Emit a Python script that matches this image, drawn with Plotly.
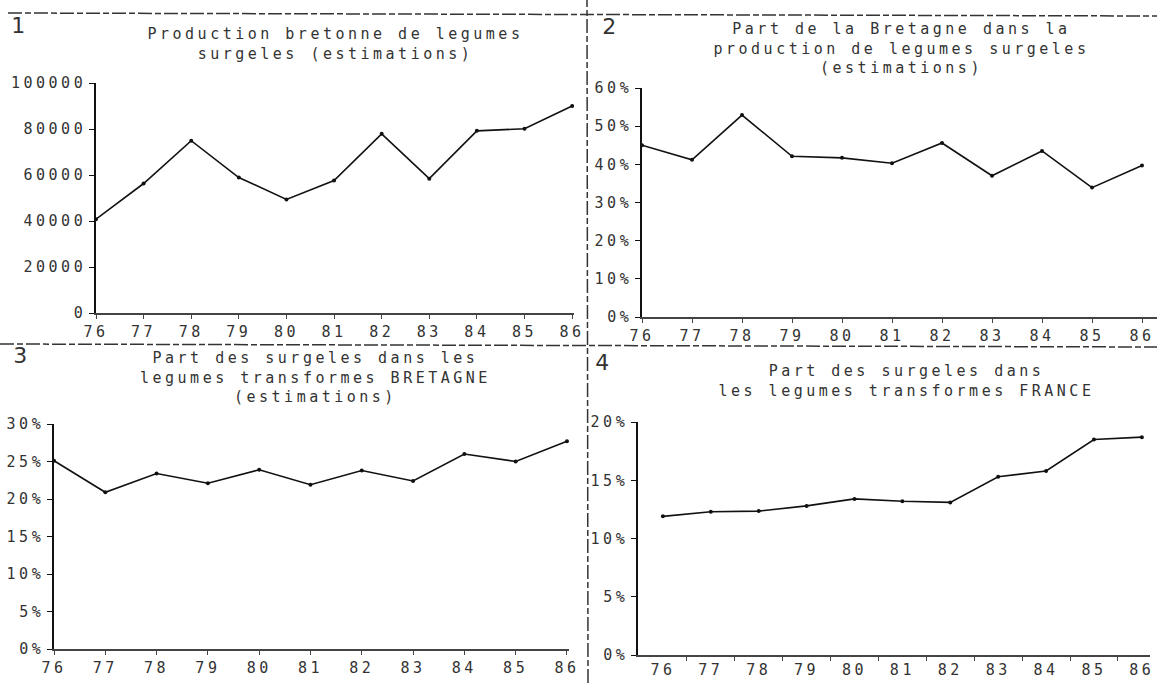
import plotly.graph_objects as go

W, H = 1157, 683

years = [76, 77, 78, 79, 80, 81, 82, 83, 84, 85, 86]
year_labels = ["76", "77", "78", "79", "80", "81", "82", "83", "84", "85", "86"]

prod_bretagne = [40800, 56300, 74900, 58900, 49400, 57600, 77900, 58400, 79200, 80100, 90000]
part_bretagne = [45.0, 41.2, 52.9, 42.1, 41.7, 40.3, 45.6, 37.0, 43.5, 33.9, 39.7]
part_surg_bretagne = [25.1, 20.9, 23.4, 22.1, 23.9, 21.9, 23.8, 22.4, 26.0, 25.0, 27.7]
part_surg_france = [11.9, 12.3, 12.35, 12.8, 13.4, 13.2, 13.1, 15.3, 15.8, 18.5, 18.7]

titles = [
    "Production bretonne de legumes<br>surgeles (estimations)",
    "Part de la Bretagne dans la<br>production de legumes surgeles<br>(estimations)",
    "Part des surgeles dans les<br>legumes transformes BRETAGNE<br>(estimations)",
    "Part des surgeles dans<br>les legumes transformes FRANCE",
]

MONO = "DejaVu Sans Mono"
FS = 15


def px_x(x):
    return x / W


def px_y(y):
    return 1 - y / H


fig = go.Figure()

panels = [
    dict(data=prod_bretagne, xd=(96, 574), yd=(313, 83), xr=[76, 86.04], yr=[0, 100000], dt=20000, suf=""),
    dict(data=part_bretagne, xd=(642, 1157), yd=(317, 88), xr=[76, 86.3], yr=[0, 60], dt=10, suf="%"),
    dict(data=part_surg_bretagne, xd=(54, 569), yd=(649, 424), xr=[76, 86.04], yr=[0, 30], dt=5, suf="%"),
    dict(data=part_surg_france, xd=(638, 1150), yd=(655, 422), xr=[75.48, 86.17], yr=[0, 20], dt=5, suf="%"),
]

for i, p in enumerate(panels, start=1):
    sfx = "" if i == 1 else str(i)
    fig.add_trace(go.Scatter(
        x=years, y=p["data"], mode="lines+markers",
        line=dict(color="#111111", width=1.6),
        marker=dict(color="#111111", size=4),
        xaxis="x" + sfx, yaxis="y" + sfx, showlegend=False,
        hoverinfo="x+y",
    ))
    xa = dict(
        domain=[px_x(p["xd"][0]), px_x(p["xd"][1])],
        range=p["xr"], anchor="y" + sfx, automargin=False,
        tickmode="array", tickvals=years, ticktext=year_labels,
        showline=True, linecolor="#444444", linewidth=1.5,
        showgrid=False, zeroline=False,
        ticks="outside" if i != 4 else "", ticklen=4, tickcolor="#444444",
        tickfont=dict(family=MONO, size=FS, color="#333333"),
        fixedrange=True,
    )
    if i == 4:
        xa["minor"] = dict(tickvals=[y + 0.5 for y in years[:-1]], ticks="outside",
                           ticklen=4, tickcolor="#444444")
    ya = dict(
        domain=[px_y(p["yd"][0]), px_y(p["yd"][1])],
        range=p["yr"], anchor="x" + sfx, automargin=False,
        dtick=p["dt"], tick0=0, ticksuffix=p["suf"], tickformat="d",
        showline=True, linecolor="#111111", linewidth=1.6,
        showgrid=False, zeroline=False,
        ticks="outside", ticklen=5, tickcolor="#111111",
        tickfont=dict(family=MONO, size=FS, color="#333333"),
        fixedrange=True,
    )
    fig.update_layout(**{"xaxis" + sfx: xa, "yaxis" + sfx: ya})

# titles (cx, cy = centre of first line, px)
title_pos = [(335, 33), (901, 28), (315, 357), (906, 370)]
for t, (cx, cy) in zip(titles, title_pos):
    fig.add_annotation(
        text=t, x=px_x(cx), y=px_y(cy - 10), xref="paper", yref="paper",
        xanchor="center", yanchor="top", showarrow=False, align="center",
        font=dict(family=MONO, size=FS, color="#333333"),
    )

# panel numbers
num_pos = [("1", 20, 25), ("2", 611, 27), ("3", 22, 355), ("4", 604, 362)]
for n, x, y in num_pos:
    fig.add_annotation(
        text=n, x=px_x(x), y=px_y(y), xref="paper", yref="paper",
        xanchor="center", yanchor="middle", showarrow=False,
        font=dict(family="DejaVu Sans", size=22, color="#333333"),
    )

# panel dividers
dash = "14px,3px,6px,3px"
fig.add_shape(type="line", xref="paper", yref="paper",
              x0=px_x(8), x1=1, y0=px_y(13), y1=px_y(16),
              line=dict(color="#333333", width=1.5, dash=dash))
fig.add_shape(type="line", xref="paper", yref="paper",
              x0=0, x1=1, y0=px_y(344), y1=px_y(347),
              line=dict(color="#333333", width=1.5, dash=dash))
fig.add_shape(type="line", xref="paper", yref="paper",
              x0=px_x(588), x1=px_x(587), y0=0, y1=1,
              line=dict(color="#333333", width=1.5, dash=dash))

fig.update_layout(
    width=W, height=H,
    margin=dict(l=0, r=0, t=0, b=0),
    paper_bgcolor="white", plot_bgcolor="white",
    showlegend=False,
)

# remove the page margin, and give the printed labels their wide typewriter spacing
post = """
document.body.style.margin = '0';
document.body.style.overflow = 'hidden';
var gd = document.getElementById('{plot_id}');
function spaceText() {
  gd.querySelectorAll('.xaxislayer-above text, .yaxislayer-above text, .annotation-text')
    .forEach(function (t) { t.style.letterSpacing = '3.5px'; });
}
spaceText();
gd.on('plotly_afterplot', spaceText);
"""

fig.write_html("out.html", post_script=post, config={"displayModeBar": False})
